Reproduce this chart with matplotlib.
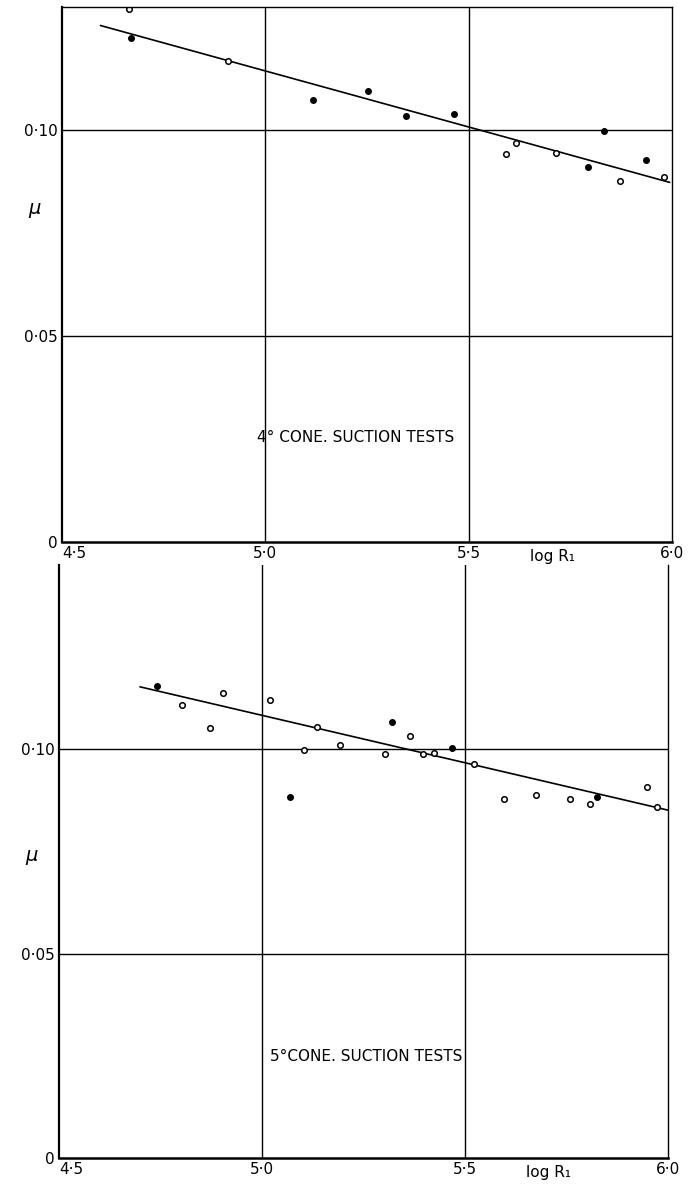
import matplotlib.pyplot as plt

# 4 deg cone - suction tests (top)
top_open_x = [4.665, 4.907, 5.593, 5.616, 5.715, 5.873, 5.981]
top_open_y = [0.1294, 0.1170, 0.0942, 0.0970, 0.0946, 0.0877, 0.0886]
top_fill_x = [4.670, 5.116, 5.253, 5.347, 5.465, 5.832, 5.794, 5.936]
top_fill_y = [0.1224, 0.1074, 0.1096, 0.1036, 0.1041, 0.0999, 0.0912, 0.0929]
top_line_x = [4.595, 5.994]
top_line_y = [0.1255, 0.0874]

# 5 deg cone - suction tests (bottom)
bot_open_x = [4.803, 4.873, 4.904, 5.020, 5.103, 5.136, 5.193, 5.303, 5.365,
              5.396, 5.424, 5.521, 5.596, 5.674, 5.758, 5.807, 5.948, 5.974]
bot_open_y = [0.1108, 0.1051, 0.1137, 0.1120, 0.0997, 0.1053, 0.1010, 0.0989, 0.1031,
              0.0989, 0.0991, 0.0963, 0.0878, 0.0888, 0.0879, 0.0866, 0.0906, 0.0859]
bot_fill_x = [4.741, 5.068, 5.320, 5.467, 5.824]
bot_fill_y = [0.1155, 0.0883, 0.1067, 0.1003, 0.0883]
bot_line_x = [4.70, 5.998]
bot_line_y = [0.1152, 0.0851]

xticks = [4.5, 5.0, 5.5, 6.0]
xtick_labels = ["4·5", "5·0", "5·5", "6·0"]
yticks = [0, 0.05, 0.10]
ytick_labels = ["0", "0·05", "0·10"]
titles = ["4° CONE. SUCTION TESTS", "5°CONE. SUCTION TESTS"]

fig = plt.figure(figsize=(7, 11.91), dpi=100)
ax1 = fig.add_axes([0.0886, 0.5449, 0.8714, 0.4492])
ax2 = fig.add_axes([0.0843, 0.0277, 0.870, 0.4979])


def draw_panel(ax, ox, oy, fx, fy, lx, ly, ytop, title, tx, ty, mu_y, top_spine):
    ax.set_xlim(4.5, 6.0)
    ax.set_ylim(0, ytop)
    for v in [5.0, 5.5]:
        ax.axvline(v, color="black", lw=1.0)
    for v in [0.05, 0.10]:
        ax.axhline(v, color="black", lw=1.0)
    ax.plot(lx, ly, color="black", lw=1.2)
    ax.plot(ox, oy, "o", ms=4, mfc="white", mec="black", mew=1.1, ls="none")
    ax.plot(fx, fy, "o", ms=4, mfc="black", mec="black", ls="none")
    ax.spines["left"].set_linewidth(1.6)
    ax.spines["bottom"].set_linewidth(1.8)
    ax.spines["right"].set_linewidth(1.0)
    ax.spines["top"].set_linewidth(1.0)
    ax.spines["top"].set_visible(top_spine)
    ax.set_xticks(xticks)
    ax.set_xticklabels(xtick_labels, fontsize=11)
    ax.set_yticks(yticks)
    ax.set_yticklabels(ytick_labels, fontsize=11)
    ax.tick_params(length=0, pad=3)
    ax.get_xticklabels()[0].set_horizontalalignment("left")
    ax.text(tx, ty, title, fontsize=11, ha="left", va="center")
    ax.text(5.65, -0.0035, "log R₁", fontsize=11, ha="left", va="center")
    ax.text(-0.045, mu_y, "μ", fontsize=14, style="italic",
            transform=ax.get_yaxis_transform(), ha="center", va="center")


draw_panel(ax1, top_open_x, top_open_y, top_fill_x, top_fill_y, top_line_x, top_line_y,
           0.130, titles[0], 4.98, 0.0255, 0.081, True)
draw_panel(ax2, bot_open_x, bot_open_y, bot_fill_x, bot_fill_y, bot_line_x, bot_line_y,
           0.145, titles[1], 5.02, 0.0249, 0.074, False)

fig.savefig("out.png", dpi=100)
